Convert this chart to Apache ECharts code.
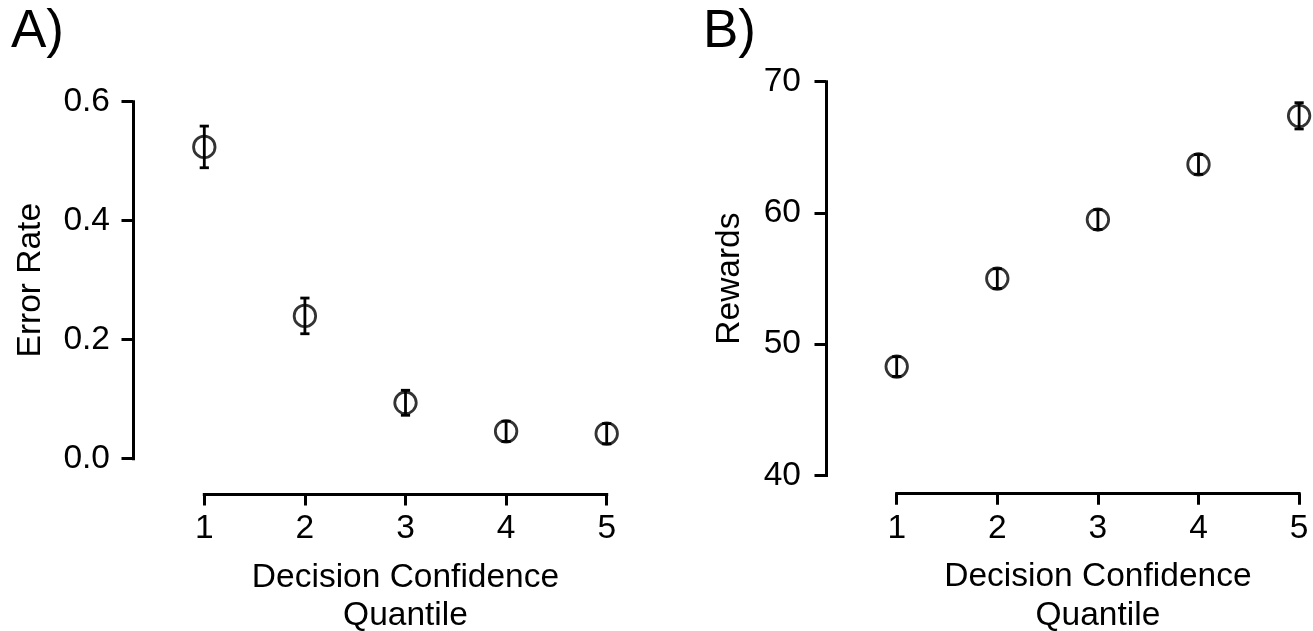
<!DOCTYPE html>
<html>
<head>
<meta charset="utf-8">
<script src="https://cdn.jsdelivr.net/npm/echarts@6/dist/echarts.min.js"></script>
<style>
html,body{margin:0;padding:0;background:#fff;}
#c{width:1313px;height:631px;}
</style>
</head>
<body>
<div id="c"></div>
<script>
// ---- data ----
const quantiles = [1, 2, 3, 4, 5];
const errorRate = [0.524, 0.240, 0.094, 0.046, 0.042];
const errorRateSE = [0.035, 0.030, 0.021, 0.017, 0.017];
const rewards = [48.3, 55.0, 59.5, 63.7, 67.4];
const rewardsSE = [0.75, 0.75, 0.75, 0.75, 1.0];
const xTicks = [1, 2, 3, 4, 5];
const yTicksA = [0.0, 0.2, 0.4, 0.6];
const yTicksB = [40, 50, 60, 70];
const panelLabels = ['A)', 'B)'];
const yTitles = ['Error Rate', 'Rewards'];
const xTitle = 'Decision Confidence\nQuantile';

const FONT = 'Liberation Sans, Arial, Helvetica, sans-serif';
const FS = 33.5;
const black = '#000';

const chart = echarts.init(document.getElementById('c'), null, {renderer: 'canvas'});

function pts(vals) { return quantiles.map((q, i) => [q, vals[i]]); }
function bars(vals, se) { return quantiles.map((q, i) => [q, vals[i] - se[i], vals[i] + se[i]]); }

function renderBar(params, api) {
  const x = api.value(0);
  const lo = api.coord([x, api.value(1)]);
  const hi = api.coord([x, api.value(2)]);
  const cw = 4.6;
  const st = {stroke: black, lineWidth: 2.8, fill: null};
  return {
    type: 'group',
    children: [
      {type: 'line', shape: {x1: lo[0], y1: lo[1], x2: hi[0], y2: hi[1]}, style: st},
      {type: 'line', shape: {x1: lo[0] - cw, y1: lo[1], x2: lo[0] + cw, y2: lo[1]}, style: st},
      {type: 'line', shape: {x1: hi[0] - cw, y1: hi[1], x2: hi[0] + cw, y2: hi[1]}, style: st}
    ]
  };
}

function xAxisCfg(gridIndex, offset) {
  return {
    type: 'value', gridIndex: gridIndex, min: xTicks[0], max: xTicks[xTicks.length - 1], interval: 1,
    position: 'bottom', offset: offset,
    axisLine: {show: true, onZero: false, lineStyle: {color: black, width: 3, cap: 'square'}},
    axisTick: {show: true, length: 11.5, lineStyle: {color: black, width: 3}},
    axisLabel: {show: true, color: black, fontSize: FS, fontFamily: FONT, margin: 18, showMinLabel: true, showMaxLabel: true},
    splitLine: {show: false},
    name: xTitle, nameLocation: 'middle', nameGap: 64, nameMoveOverlap: false,
    nameTextStyle: {color: black, fontSize: FS, fontFamily: FONT, lineHeight: 38.7}
  };
}

function yAxisCfg(gridIndex, ticks, offset, name, nameGap, decimals, margin) {
  return {
    type: 'value', gridIndex: gridIndex, min: ticks[0], max: ticks[ticks.length - 1],
    interval: ticks[1] - ticks[0], position: 'left', offset: offset,
    axisLine: {show: true, onZero: false, lineStyle: {color: black, width: 3, cap: 'square'}},
    axisTick: {show: true, length: 11.5, lineStyle: {color: black, width: 3}},
    axisLabel: {show: true, color: black, fontSize: FS, fontFamily: FONT, margin: margin,
      showMinLabel: true, showMaxLabel: true,
      formatter: v => Number(v).toFixed(decimals)},
    splitLine: {show: false},
    name: name, nameLocation: 'middle', nameGap: nameGap, nameMoveOverlap: false,
    nameTextStyle: {color: black, fontSize: FS, fontFamily: FONT}
  };
}

const option = {
  backgroundColor: '#fff',
  animation: false,
  textStyle: {fontFamily: FONT},
  grid: [
    {left: 204.3, top: 101.7, width: 402.4, height: 357, containLabel: false, outerBoundsMode: 'none'},
    {left: 896.7, top: 81.7, width: 402.4, height: 393.8, containLabel: false, outerBoundsMode: 'none'}
  ],
  xAxis: [xAxisCfg(0, 35.3), xAxisCfg(1, 17.8)],
  yAxis: [
    yAxisCfg(0, yTicksA, 71.3, yTitles[0], 85, 1, 23),
    yAxisCfg(1, yTicksB, 70.7, yTitles[1], 79, 0, 25)
  ],
  graphic: [
    {type: 'text', left: 11, top: 6, style: {text: panelLabels[0], font: '53px ' + FONT, fill: black}},
    {type: 'text', left: 703, top: 6, style: {text: panelLabels[1], font: '53px ' + FONT, fill: black}}
  ],
  series: [
    {type: 'custom', xAxisIndex: 0, yAxisIndex: 0, renderItem: renderBar, data: bars(errorRate, errorRateSE), z: 3},
    {type: 'scatter', xAxisIndex: 0, yAxisIndex: 0, data: pts(errorRate), symbol: 'circle', symbolSize: 21.5,
      itemStyle: {color: 'rgba(0,0,0,0)', borderColor: black, borderWidth: 2.8}, z: 4},
    {type: 'custom', xAxisIndex: 1, yAxisIndex: 1, renderItem: renderBar, data: bars(rewards, rewardsSE), z: 3},
    {type: 'scatter', xAxisIndex: 1, yAxisIndex: 1, data: pts(rewards), symbol: 'circle', symbolSize: 21.5,
      itemStyle: {color: 'rgba(0,0,0,0)', borderColor: black, borderWidth: 2.8}, z: 4}
  ]
};
chart.setOption(option);
</script>
</body>
</html>
